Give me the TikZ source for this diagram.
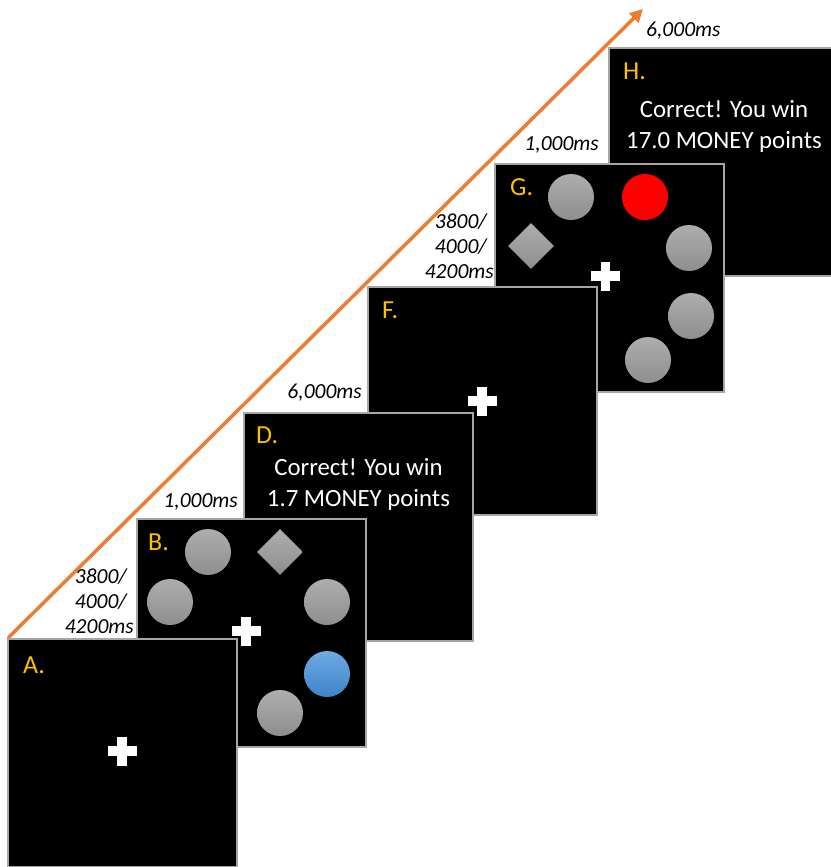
\documentclass[tikz,border=0pt]{standalone}
\usepackage{fontspec}
\setmainfont{Carlito}
\usetikzlibrary{arrows.meta,shapes.geometric}
\definecolor{gold}{HTML}{FFC000}
\definecolor{arr}{HTML}{ED7D31}
\definecolor{bord}{HTML}{A6A6A6}
\definecolor{gtop}{HTML}{ADADAD}
\definecolor{gbot}{HTML}{8E8E8E}
\definecolor{btop}{HTML}{6FAAE2}
\definecolor{bbot}{HTML}{3C84C8}
\begin{document}
\begin{tikzpicture}[x=1pt,y=-1pt,
  panel/.style={draw=bord, line width=1.5pt, fill=black, minimum width=229pt,
    minimum height=228pt, anchor=north west, inner sep=0pt, outer sep=0pt},
  lett/.style={text=gold, font=\fontsize{26}{30}\selectfont, anchor=base west, inner sep=0pt},
  tlab/.style={font=\itshape\fontsize{21.5}{25}\selectfont, inner sep=0pt},
  msg/.style={text=white, font=\fontsize{24.8}{31}\selectfont, anchor=base, inner sep=0pt},
  gcirc/.style={circle, minimum size=46pt, inner sep=0pt, top color=gtop, bottom color=gbot},
  bcirc/.style={circle, minimum size=46pt, inner sep=0pt, top color=btop, bottom color=bbot},
  rcirc/.style={circle, minimum size=46pt, inner sep=0pt, fill=red},
  gdiam/.style={diamond, minimum size=46pt, inner sep=0pt, top color=gtop, bottom color=gbot},
  crossbar/.style={fill=white}
]
\useasboundingbox (0,0) rectangle (830,867);

% arrow
\coordinate (s) at (8,638);
\coordinate (e) at (643,9);
\draw[arr, line width=3.5pt, -{Triangle[length=13pt,width=13pt]}] (s) -- (e);

% H
\node[panel] (H) at (609,48) {};
\node[lett] (Hl) at (623,80) {H.};
\node[msg] (H1) at (724,117) {Correct! You win};
\node[msg] (H2) at (724,148) {17.0 MONEY points};

% G
\node[panel] (G) at (495,164) {};
\node[lett] (Gl) at (510,195) {G.};
\node[gcirc] (g1) at (571,197) {};
\node[rcirc] (g2) at (645,197) {};
\node[gdiam] (g3) at (531,246) {};
\node[gcirc] (g4) at (689,248) {};
\node[gcirc] (g5) at (691,316) {};
\node[gcirc] (g6) at (648,360) {};

% F
\node[panel] (F) at (368,287) {};
\node[lett] (Fl) at (382,318) {F.};

% D
\node[panel] (D) at (244,413) {};
\node[lett] (Dl) at (256,443) {D.};
\node[msg] (D1) at (358.5,475) {Correct! You win};
\node[msg] (D2) at (358.5,506) {1.7 MONEY points};

% B
\node[panel] (B) at (137,519) {};
\node[lett] (Bl) at (148,550) {B.};
\node[gcirc] (b1) at (208,552) {};
\node[gdiam] (b2) at (280,552) {};
\node[gcirc] (b3) at (170,602) {};
\node[gcirc] (b4) at (327,602) {};
\node[bcirc] (b5) at (327,674) {};
\node[gcirc] (b6) at (280,713) {};

% A
\node[panel] (A) at (8,639) {};
\node[lett] (Al) at (23,673) {A.};

% crosses
\foreach \n/\cx/\cy in {cA/122/751, cB/246/631, cF/482/401, cG/605.5/276}{
  \fill[crossbar] (\cx-14.5,\cy-4.75) rectangle (\cx+14.5,\cy+4.75);
  \fill[crossbar] (\cx-4.75,\cy-14.5) rectangle (\cx+4.75,\cy+14.5);
}

% time labels
\node[tlab, anchor=base east] (t1) at (127,583) {3800/};
\node[tlab, anchor=base east] (t2) at (127,608) {4000/};
\node[tlab, anchor=base east] (t3) at (134,633) {4200ms};
\node[tlab, anchor=base east] (t4) at (238,507) {1,000ms};
\node[tlab, anchor=base east] (t5) at (362,398) {6,000ms};
\node[tlab, anchor=base east] (t6) at (487,228) {3800/};
\node[tlab, anchor=base east] (t7) at (487,253) {4000/};
\node[tlab, anchor=base east] (t8) at (494,278) {4200ms};
\node[tlab, anchor=base east] (t9) at (599,150) {1,000ms};
\node[tlab, anchor=base west] (t10) at (646,37) {6,000ms};
\end{tikzpicture}
\end{document}
